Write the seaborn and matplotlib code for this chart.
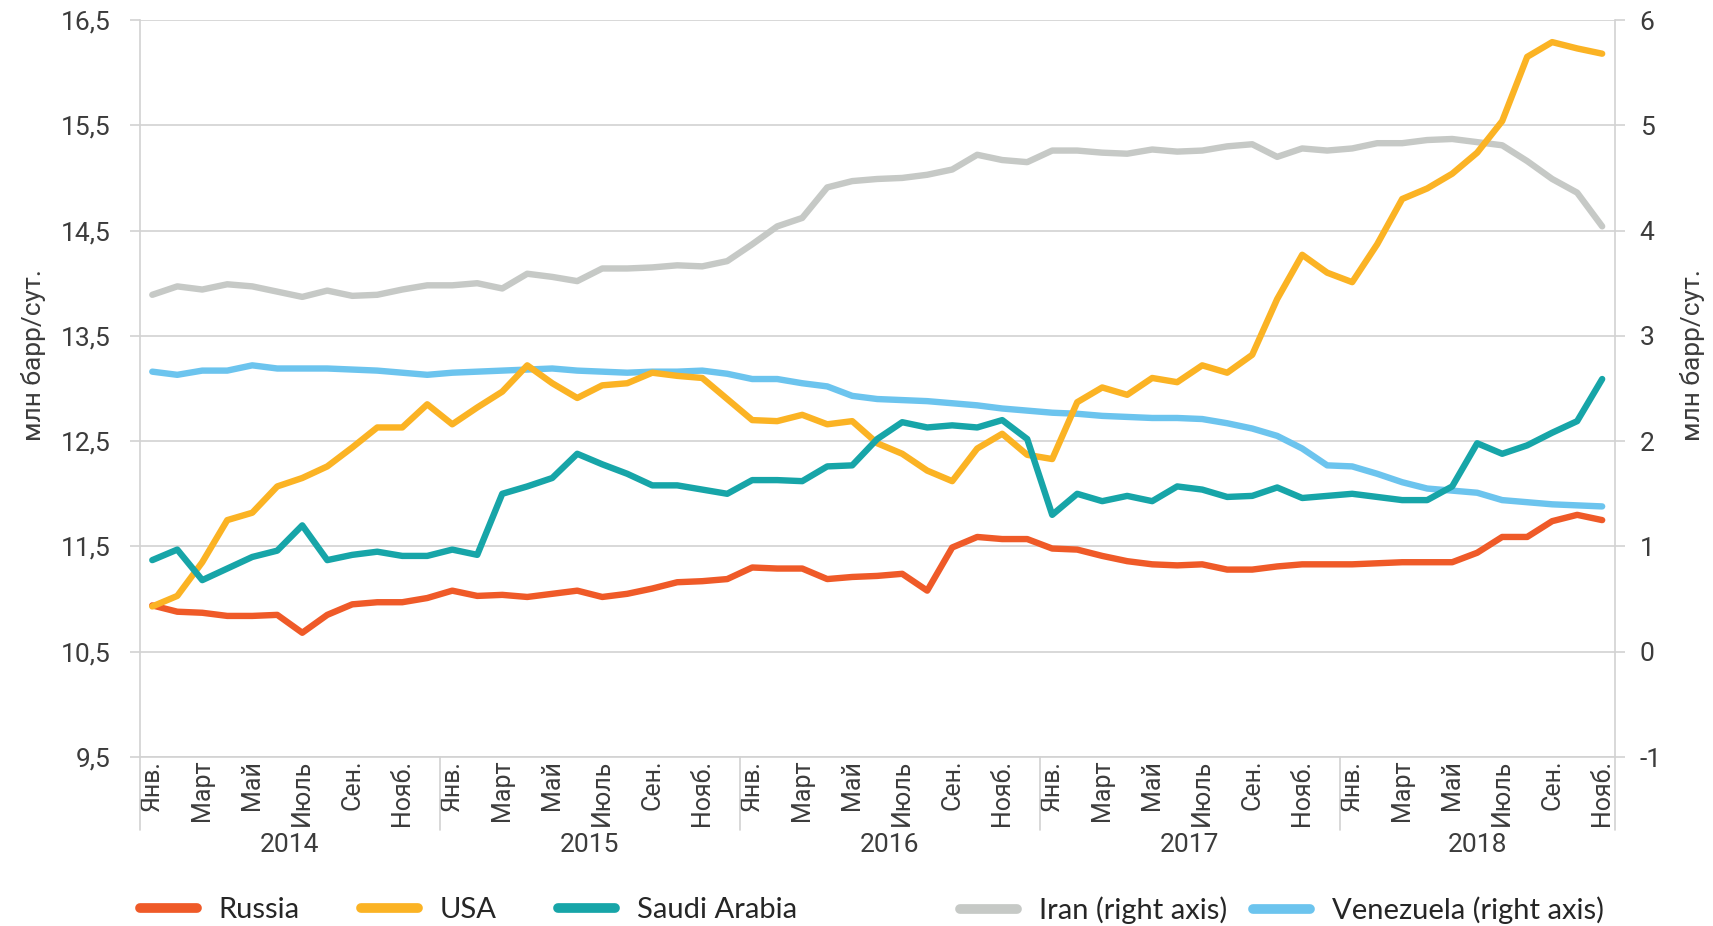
import numpy as np
import pandas as pd
import matplotlib.pyplot as plt
import matplotlib.transforms as mtransforms
import seaborn as sns

# подписи по оси X: каждый второй месяц, годы снизу
month_labels = ['Янв.', 'Март', 'Май', 'Июль', 'Сен.', 'Нояб.']
years = ['2014', '2015', '2016', '2017', '2018']
months_in_year = [12, 12, 12, 12, 11]

left_ticks = [9.5, 10.5, 11.5, 12.5, 13.5, 14.5, 15.5, 16.5]
left_tick_labels = ['9,5', '10,5', '11,5', '12,5', '13,5', '14,5', '15,5', '16,5']
right_ticks = [-1, 0, 1, 2, 3, 4, 5, 6]
right_tick_labels = ['-1', '0', '1', '2', '3', '4', '5', '6']

# добыча, млн барр/сут. (янв. 2014 - нояб. 2018)
russia = [10.94, 10.88, 10.87, 10.84, 10.84, 10.85, 10.68, 10.85, 10.95, 10.97, 10.97, 11.01,
          11.08, 11.03, 11.04, 11.02, 11.05, 11.08, 11.02, 11.05, 11.10, 11.16, 11.17, 11.19,
          11.30, 11.29, 11.29, 11.19, 11.21, 11.22, 11.24, 11.08, 11.49, 11.59, 11.57, 11.57,
          11.48, 11.47, 11.41, 11.36, 11.33, 11.32, 11.33, 11.28, 11.28, 11.31, 11.33, 11.33,
          11.33, 11.34, 11.35, 11.35, 11.35, 11.44, 11.59, 11.59, 11.74, 11.80, 11.75]
usa = [10.93, 11.03, 11.35, 11.75, 11.82, 12.07, 12.15, 12.26, 12.44, 12.63, 12.63, 12.85,
       12.66, 12.82, 12.97, 13.22, 13.05, 12.91, 13.03, 13.05, 13.15, 13.12, 13.10, 12.90,
       12.70, 12.69, 12.75, 12.66, 12.69, 12.48, 12.38, 12.22, 12.12, 12.43, 12.57, 12.37,
       12.33, 12.87, 13.01, 12.94, 13.10, 13.06, 13.22, 13.15, 13.32, 13.85, 14.27, 14.10,
       14.01, 14.37, 14.80, 14.90, 15.04, 15.24, 15.54, 16.15, 16.29, 16.23, 16.18]
saudi = [11.37, 11.47, 11.18, 11.29, 11.40, 11.46, 11.70, 11.37, 11.42, 11.45, 11.41, 11.41,
         11.47, 11.42, 12.00, 12.07, 12.15, 12.38, 12.28, 12.19, 12.08, 12.08, 12.04, 12.00,
         12.13, 12.13, 12.12, 12.26, 12.27, 12.52, 12.68, 12.63, 12.65, 12.63, 12.70, 12.52,
         11.80, 12.00, 11.93, 11.98, 11.93, 12.07, 12.04, 11.97, 11.98, 12.06, 11.96, 11.98,
         12.00, 11.97, 11.94, 11.94, 12.07, 12.48, 12.38, 12.46, 12.58, 12.69, 13.09]
# правая ось
iran = [3.39, 3.47, 3.44, 3.49, 3.47, 3.42, 3.37, 3.43, 3.38, 3.39, 3.44, 3.48,
        3.48, 3.50, 3.45, 3.59, 3.56, 3.52, 3.64, 3.64, 3.65, 3.67, 3.66, 3.71,
        3.87, 4.04, 4.12, 4.41, 4.47, 4.49, 4.50, 4.53, 4.58, 4.72, 4.67, 4.65,
        4.76, 4.76, 4.74, 4.73, 4.77, 4.75, 4.76, 4.80, 4.82, 4.70, 4.78, 4.76,
        4.78, 4.83, 4.83, 4.86, 4.87, 4.84, 4.81, 4.66, 4.49, 4.36, 4.04]
venezuela = [2.66, 2.63, 2.67, 2.67, 2.72, 2.69, 2.69, 2.69, 2.68, 2.67, 2.65, 2.63,
             2.65, 2.66, 2.67, 2.68, 2.69, 2.67, 2.66, 2.65, 2.66, 2.66, 2.67, 2.64,
             2.59, 2.59, 2.55, 2.52, 2.43, 2.40, 2.39, 2.38, 2.36, 2.34, 2.31, 2.29,
             2.27, 2.26, 2.24, 2.23, 2.22, 2.22, 2.21, 2.17, 2.12, 2.05, 1.93, 1.77,
             1.76, 1.69, 1.61, 1.55, 1.53, 1.51, 1.44, 1.42, 1.40, 1.39, 1.38]

sns.set_style('white')
plt.rcParams['font.family'] = ['Roboto', 'DejaVu Sans']

n = len(russia)
df = pd.DataFrame({'month': np.arange(n), 'Russia': russia, 'USA': usa, 'Saudi Arabia': saudi,
                   'Iran (right axis)': iran, 'Venezuela (right axis)': venezuela})

grey = '#d2d2d2'
txt = '#3c3c3c'

fig = plt.figure(figsize=(17.13, 9.26), dpi=100)
# оси: 20..757 px по вертикали
ax = fig.add_axes([0.0816, 0.1825, 0.861, 0.7959])
ax2 = ax.twinx()
# левые серии поверх правых
ax.set_zorder(ax2.get_zorder() + 1)
ax.patch.set_visible(False)

line_kw = dict(lw=4.6, solid_capstyle='round', solid_joinstyle='round', legend=False)
handles = []
for name, col in [('Russia', '#ef5a28'), ('USA', '#fbb324'), ('Saudi Arabia', '#17a5a8')]:
    sns.lineplot(data=df, x='month', y=name, ax=ax, color=col, **line_kw)
    handles.append(ax.lines[-1])
for name, col in [('Iran (right axis)', '#c6c9c6'), ('Venezuela (right axis)', '#6cc4ee')]:
    sns.lineplot(data=df, x='month', y=name, ax=ax2, color=col, **line_kw)
    handles.append(ax2.lines[-1])
labels = list(df.columns[1:])

ax.set_xlim(-0.5, n - 0.5)
ax.set_ylim(9.5, 16.5)
ax2.set_ylim(-1, 6)

ax.set_yticks(left_ticks, left_tick_labels)
ax2.set_yticks(right_ticks, right_tick_labels)
ax2.grid(axis='y', color=grey, lw=1.2)
ax.grid(False)

ticks = np.arange(0, n, 2)
ax.set_xticks(ticks, (month_labels * len(years))[:len(ticks)], rotation=90, ha='center', va='top')
ax.tick_params(axis='x', length=0, pad=2, labelsize=18, labelcolor=txt)
ax.tick_params(axis='y', length=7, width=1.2, color=grey, pad=14, labelsize=19, labelcolor=txt)
ax2.tick_params(axis='y', length=7, width=1.2, color=grey, pad=11, labelsize=19, labelcolor=txt)

for a in (ax, ax2):
    a.set_xlabel('')
    for s in a.spines.values():
        s.set_color(grey)
        s.set_linewidth(1.2)
    a.spines['top'].set_visible(False)
ax.spines['right'].set_visible(False)
ax2.spines['left'].set_visible(False)
ax2.spines['bottom'].set_visible(False)

ax.set_ylabel('млн барр/сут.', fontsize=19, color=txt)
ax.yaxis.set_label_coords(-0.0636, 0.545)
ax2.set_ylabel('млн барр/сут.', fontsize=19, color=txt)
ax2.yaxis.set_label_coords(1.044, 0.545)

# разделители годов и подписи годов
trans = mtransforms.blended_transform_factory(ax.transData, ax.transAxes)
bounds = np.cumsum([0] + months_in_year) - 0.5
for b in bounds:
    ax.plot([b, b], [0, -0.099], transform=trans, clip_on=False, color=grey, lw=1.2)
for yr, c in zip(years, (bounds[:-1] + bounds[1:]) / 2):
    ax.text(c, -0.119, yr, transform=trans, ha='center', va='center', fontsize=19, color=txt)

leg_kw = dict(frameon=False, prop={'family': 'Lato', 'size': 21}, handlelength=1.95,
              handletextpad=0.75, borderaxespad=0, borderpad=0)
leg1 = fig.legend(handles[:3], labels[:3], loc='center left', bbox_to_anchor=(140 / 1713, 0.017),
                  ncol=3, columnspacing=2.1, **leg_kw)
leg2 = fig.legend(handles[3:], labels[3:], loc='center right', bbox_to_anchor=(1604 / 1713, 0.017),
                  ncol=2, columnspacing=0.9, **leg_kw)
for leg in (leg1, leg2):
    for h in leg.legend_handles:
        h.set_linewidth(7)

fig.savefig('out.png', dpi=100)
